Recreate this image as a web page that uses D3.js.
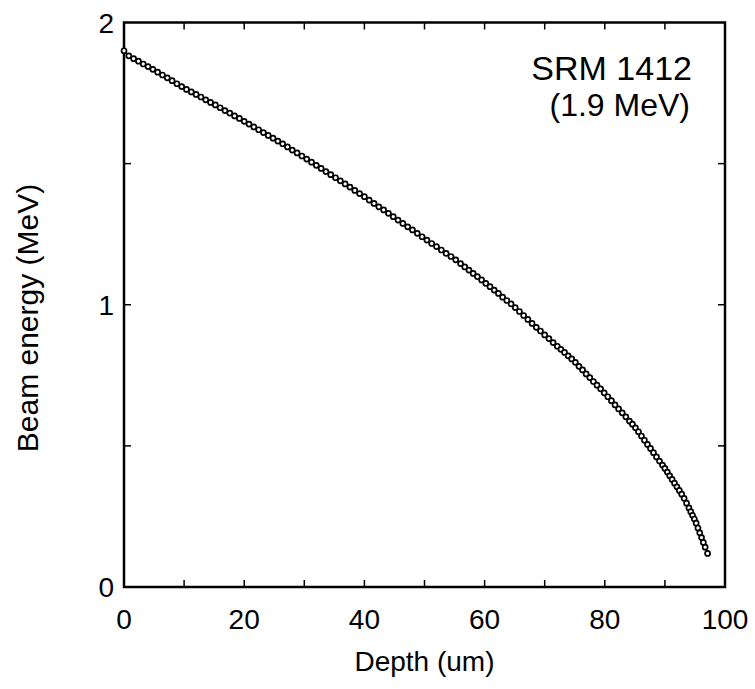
<!DOCTYPE html>
<html><head><meta charset="utf-8">
<script src="https://cdn.jsdelivr.net/npm/d3@7"></script>
<style>body{margin:0;background:#fff}svg{display:block}text{font-family:"Liberation Sans",Arial,sans-serif;fill:#000}</style>
</head><body><svg id="c" width="755" height="689"></svg>
<script>
const depth = [0,0.8,1.6,2.4,3.2,4.0,4.8,5.6,6.4,7.2,8.0,8.8,9.6,10.4,11.2,12.0,12.8,13.6,14.4,15.2,16.0,16.8,17.6,18.4,19.2,20.0,20.8,21.6,22.4,23.2,24.0,24.8,25.6,26.4,27.2,28.0,28.8,29.6,30.4,31.2,32.0,32.8,33.6,34.4,35.2,36.0,36.8,37.6,38.4,39.2,40.0,40.8,41.6,42.4,43.2,44.0,44.8,45.6,46.4,47.2,48.0,48.8,49.6,50.4,51.2,52.0,52.8,53.6,54.4,55.2,56.0,56.7,57.4,58.1,58.8,59.5,60.2,60.9,61.6,62.3,63.0,63.7,64.4,65.1,65.8,66.5,67.2,67.9,68.6,69.3,70.0,70.7,71.4,72.1,72.7,73.3,73.9,74.5,75.1,75.7,76.3,76.9,77.5,78.1,78.7,79.3,79.9,80.5,81.1,81.7,82.3,82.9,83.5,84.1,84.6,85.1,85.6,86.1,86.6,87.1,87.6,88.1,88.6,89.1,89.6,90.0,90.4,90.8,91.2,91.6,92.0,92.4,92.8,93.2,93.6,94.0,94.3,94.6,94.9,95.2,95.5,95.8,96.1,96.4,96.7,97.1];
const energy = [1.900,1.882,1.872,1.863,1.853,1.844,1.834,1.824,1.814,1.804,1.794,1.783,1.773,1.763,1.754,1.745,1.736,1.726,1.717,1.708,1.698,1.688,1.679,1.669,1.660,1.650,1.640,1.630,1.620,1.610,1.600,1.590,1.580,1.570,1.559,1.548,1.538,1.527,1.516,1.505,1.494,1.483,1.472,1.461,1.450,1.439,1.428,1.417,1.405,1.394,1.383,1.371,1.359,1.347,1.336,1.324,1.312,1.300,1.288,1.276,1.265,1.253,1.241,1.229,1.217,1.206,1.194,1.182,1.171,1.159,1.146,1.134,1.123,1.111,1.100,1.088,1.076,1.064,1.052,1.040,1.027,1.015,1.003,0.990,0.976,0.962,0.948,0.934,0.920,0.907,0.893,0.880,0.866,0.853,0.842,0.831,0.819,0.808,0.796,0.782,0.769,0.755,0.742,0.728,0.715,0.702,0.688,0.674,0.660,0.645,0.631,0.617,0.603,0.588,0.577,0.564,0.550,0.535,0.520,0.505,0.491,0.476,0.461,0.446,0.432,0.420,0.407,0.394,0.381,0.368,0.355,0.342,0.329,0.314,0.297,0.280,0.267,0.254,0.241,0.226,0.209,0.192,0.175,0.158,0.141,0.119];
const xTickLabels = [0,20,40,60,80,100];
const xMinorTicks = [10,30,50,70,90];
const yTickLabels = [0,1,2];
const yMinorTicks = [0.5,1.5];
const annotation = ["SRM 1412","(1.9 MeV)"];
const xTitle = "Depth (um)", yTitle = "Beam energy (MeV)";

const svg = d3.select("#c");
const L=124,R=725,T=22.5,B=587;
const x = d3.scaleLinear().domain([0,100]).range([L,R]);
const y = d3.scaleLinear().domain([0,2]).range([B,T]);
const data = depth.map((d,i)=>({d,e:energy[i]}));

const tl = 7;
const allX = xTickLabels.concat(xMinorTicks).filter(v=>v>0&&v<100);
const allY = yTickLabels.concat(yMinorTicks).filter(v=>v>0&&v<2);
const tg = svg.append("g").attr("stroke","#000").attr("stroke-width",1.5);
allX.forEach(v=>{
  tg.append("line").attr("x1",x(v)).attr("x2",x(v)).attr("y1",B).attr("y2",B-tl);
  tg.append("line").attr("x1",x(v)).attr("x2",x(v)).attr("y1",T).attr("y2",T+tl);
});
allY.forEach(v=>{
  tg.append("line").attr("y1",y(v)).attr("y2",y(v)).attr("x1",L).attr("x2",L+tl);
  tg.append("line").attr("y1",y(v)).attr("y2",y(v)).attr("x1",R).attr("x2",R-tl);
});
svg.append("rect").attr("x",L).attr("y",T).attr("width",R-L).attr("height",B-T)
  .attr("fill","none").attr("stroke","#000").attr("stroke-width",2.5);

svg.append("g").selectAll("text").data(xTickLabels).join("text")
  .attr("x",d=>x(d)).attr("y",B+42).attr("text-anchor","middle")
  .attr("font-size",28).text(d=>d);
svg.append("g").selectAll("text").data(yTickLabels).join("text")
  .attr("x",L-10).attr("y",d=>y(d)+10).attr("text-anchor","end")
  .attr("font-size",28).text(d=>d);

svg.append("text").attr("x",(L+R)/2).attr("y",671).attr("text-anchor","middle")
  .attr("font-size",28).text(xTitle);
svg.append("text").attr("transform",`translate(38,318) rotate(-90)`)
  .attr("text-anchor","middle").attr("font-size",30).text(yTitle);

svg.append("text").attr("x",692).attr("y",80).attr("text-anchor","end").attr("font-size",34).text(annotation[0]);
svg.append("text").attr("x",690).attr("y",116).attr("text-anchor","end").attr("font-size",32).text(annotation[1]);

svg.append("path").datum(data).attr("fill","none").attr("stroke","#000").attr("stroke-width",1.3)
  .attr("d",d3.line().x(p=>x(p.d)).y(p=>y(p.e)));
svg.append("g").selectAll("circle").data(data).join("circle")
  .attr("cx",p=>x(p.d)).attr("cy",p=>y(p.e)).attr("r",2.5)
  .attr("fill","#fff").attr("stroke","#000").attr("stroke-width",1.7);
</script></body></html>
